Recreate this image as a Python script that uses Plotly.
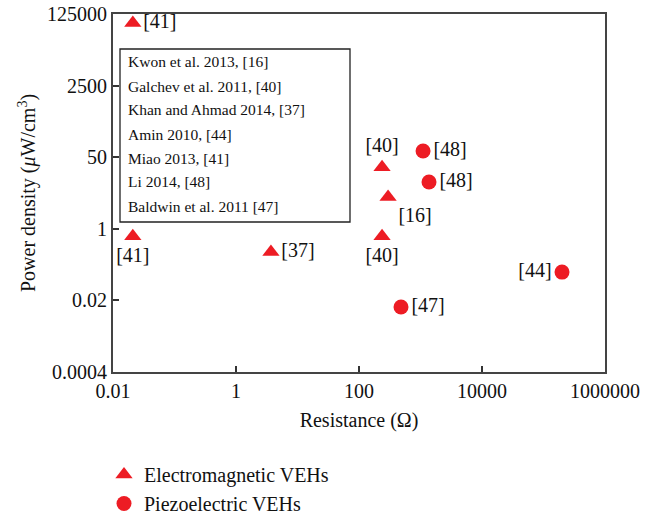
import plotly.graph_objects as go
import math

# ---- data ----
em_x = [0.021, 0.021, 3.7, 237, 297, 237]
em_y = [76000, 0.67, 0.28, 29, 5.7, 0.67]
em_labels = ["[41]", "[41]", "[37]", "[40]", "[16]", "[40]"]
em_textpos = ["middle right", "bottom center", "middle right", "top center", "bottom right", "bottom center"]

pz_x = [1100, 1375, 482, 200000]
pz_y = [70, 12.9, 0.014, 0.094]
pz_labels = ["[48]", "[48]", "[47]", "[44]"]
pz_textpos = ["middle right", "middle right", "middle right", "middle left"]

x_ticks = [0.01, 1, 100, 10000, 1000000]
x_ticktext = ["0.01", "1", "100", "10000", "1000000"]
y_ticks = [0.0004, 0.02, 1, 50, 2500, 125000]
y_ticktext = ["0.0004", "0.02", "1", "50", "2500", "125000"]

ref_lines = [
    "Kwon et al. 2013, [16]",
    "Galchev et al. 2011, [40]",
    "Khan and Ahmad 2014, [37]",
    "Amin 2010, [44]",
    "Miao 2013, [41]",
    "Li 2014, [48]",
    "Baldwin et al. 2011 [47]",
]

FONT = "Liberation Serif"
RED = "#ED1C24"

fig = go.Figure()
fig.add_trace(go.Scatter(
    x=em_x, y=em_y, mode="markers+text", name="Electromagnetic VEHs",
    text=em_labels, textposition=em_textpos,
    textfont=dict(family=FONT, size=20, color="#111"),
    marker=dict(symbol="triangle-up", size=15, color=RED),
))
fig.add_trace(go.Scatter(
    x=pz_x, y=pz_y, mode="markers+text", name="Piezoelectric VEHs",
    text=pz_labels, textposition=pz_textpos,
    textfont=dict(family=FONT, size=20, color="#111"),
    marker=dict(symbol="circle", size=15, color=RED),
))

# plot-area pixel geometry
L, R, T, B = 113, 605, 14, 372
W, H = R - L, B - T
def px(xp):
    return (xp - L) / W
def py(yp):
    return 1 - (yp - T) / H

fig.add_shape(type="rect", xref="paper", yref="paper",
              x0=px(120), x1=px(350), y0=py(222), y1=py(49),
              line=dict(color="#222", width=1.3), fillcolor="white", layer="below")
for i, t in enumerate(ref_lines):
    fig.add_annotation(xref="paper", yref="paper", x=px(126), y=py(62 + 24 * i),
                       xanchor="left", yanchor="middle", text=t, showarrow=False,
                       font=dict(family=FONT, size=15.5, color="#111"))

axis_common = dict(
    showgrid=False, zeroline=False, showline=True, linecolor="#444", linewidth=2,
    mirror=True, ticks="inside", ticklen=6, tickwidth=1.5, tickcolor="#333",
    tickfont=dict(family=FONT, size=20, color="#111"), automargin=False,
)
fig.update_xaxes(type="log", range=[-2, 6], tickvals=x_ticks, ticktext=x_ticktext,
                 title=dict(text="Resistance (Ω)", font=dict(family=FONT, size=20, color="#111"), standoff=12),
                 **axis_common)
fig.update_yaxes(type="log", range=[math.log10(0.0004), math.log10(125000)],
                 tickvals=y_ticks, ticktext=y_ticktext,
                 title=dict(text="Power density (<i>μ</i>W/cm<sup>3</sup>)", font=dict(family=FONT, size=20, color="#111"), standoff=6),
                 **axis_common)

fig.update_layout(
    width=655, height=517,
    margin=dict(l=L, r=655 - R, t=T, b=517 - B, autoexpand=False),
    plot_bgcolor="white", paper_bgcolor="white",
    showlegend=True,
    legend=dict(x=px(104), y=py(455), xanchor="left", yanchor="top",
                font=dict(family=FONT, size=20, color="#111"),
                bgcolor="rgba(0,0,0,0)", itemsizing="trace"),
)

fig.write_html("out.html", config={"displayModeBar": False},
               post_script="document.body.style.margin='0';")
